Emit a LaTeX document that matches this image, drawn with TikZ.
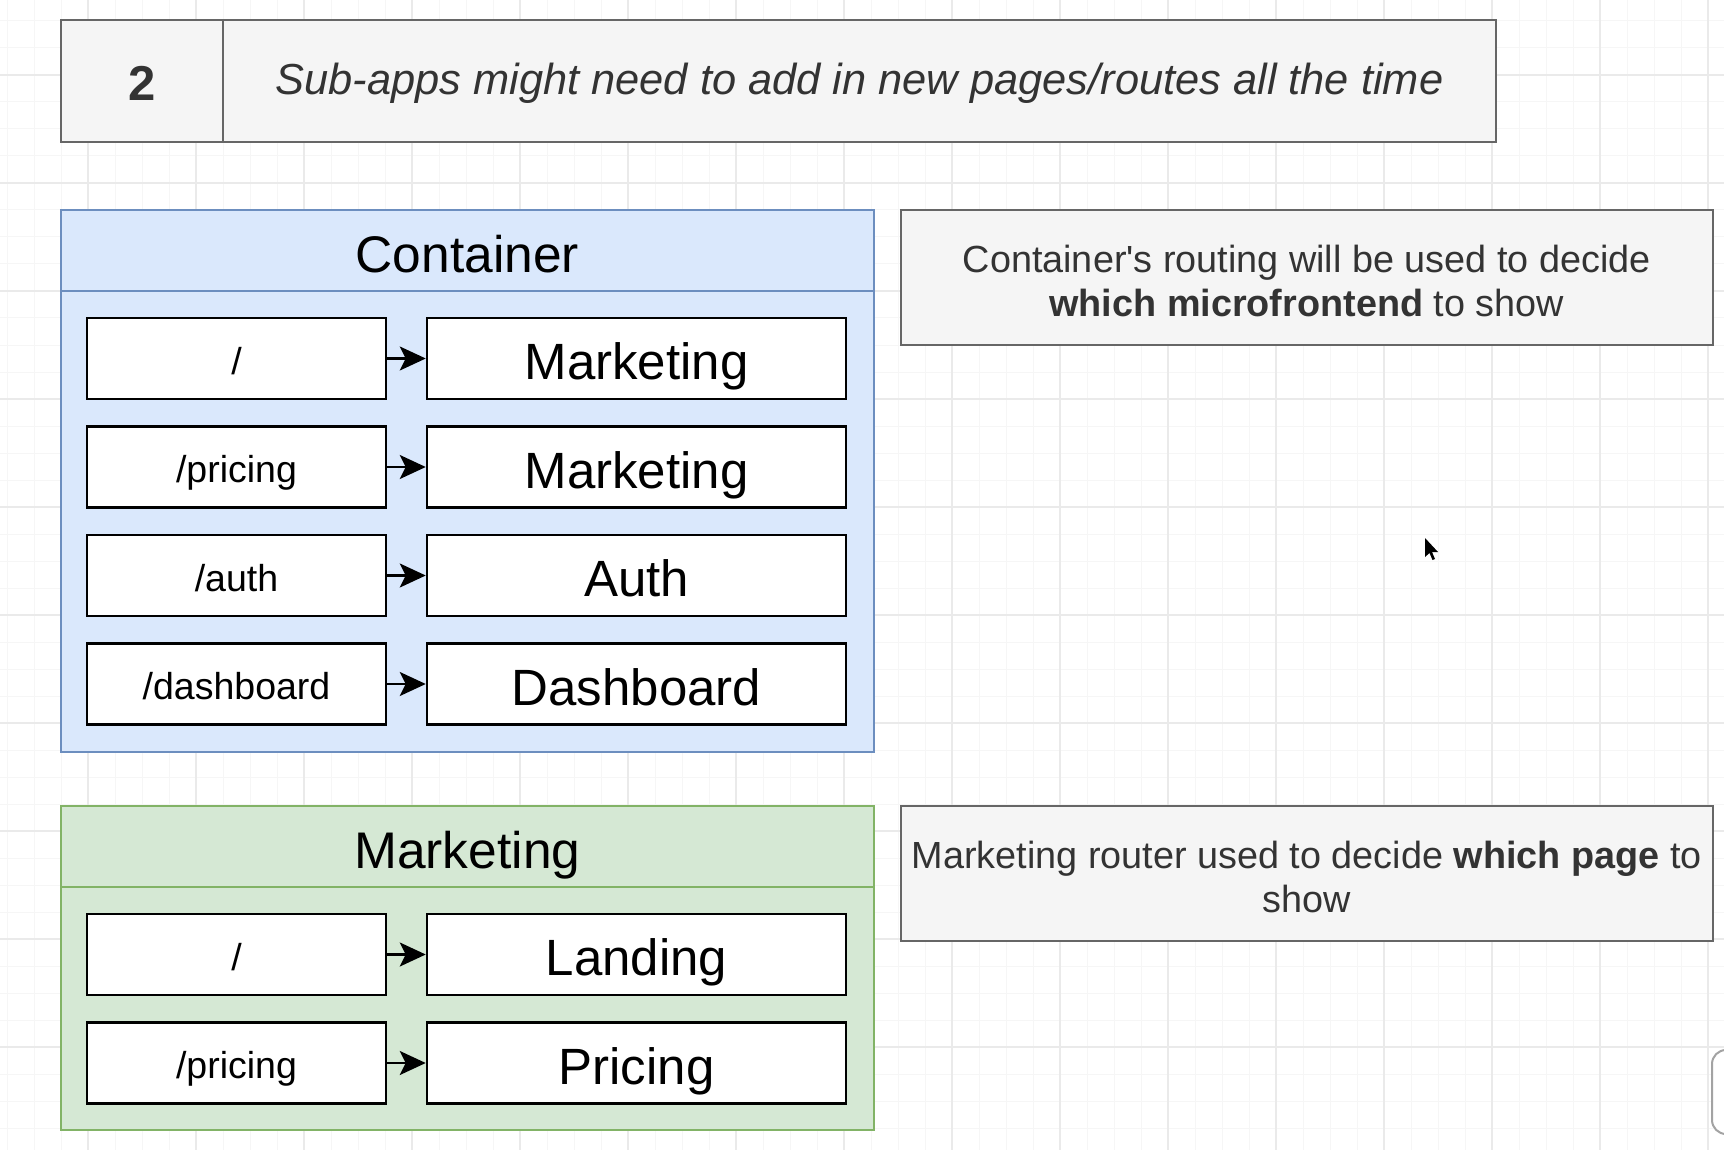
\documentclass[tikz,border=0pt]{standalone}
\usepackage{fontspec}
\setmainfont{Liberation Sans}
\usetikzlibrary{arrows.meta}
\definecolor{gridmajor}{HTML}{EAEAEA}
\definecolor{gridminor}{HTML}{F6F6F6}
\definecolor{notefill}{HTML}{F5F5F5}
\definecolor{notedraw}{HTML}{666666}
\definecolor{notetext}{HTML}{333333}
\definecolor{bluefill}{HTML}{DAE8FC}
\definecolor{bluedraw}{HTML}{6C8EBF}
\definecolor{greenfill}{HTML}{D5E8D4}
\definecolor{greendraw}{HTML}{82B366}
\tikzset{
  notebox/.style={draw=notedraw, fill=notefill, line width=2pt, text=notetext, inner sep=0pt},
  bluegroup/.style={draw=bluedraw, fill=bluefill, line width=2pt, inner sep=0pt},
  greengroup/.style={draw=greendraw, fill=greenfill, line width=2pt, inner sep=0pt},
  pathbox/.style={draw=black, fill=white, line width=2.5pt, minimum width=299pt, minimum height=81pt, inner sep=0pt, text height=37.5pt, text depth=6pt, font=\fontsize{37.5}{45}\selectfont},
  appbox/.style={draw=black, fill=white, line width=2.5pt, minimum width=419pt, minimum height=81pt, inner sep=0pt, text height=51pt, text depth=8.2pt, font=\fontsize{51}{61}\selectfont},
  routearrow/.style={-{Stealth[length=26pt,width=24pt,inset=6pt]}, line width=2.5pt},
  grouptitle/.style={inner sep=0pt, text height=51.5pt, text depth=8.2pt, font=\fontsize{51.5}{62}\selectfont},
  notetextstyle/.style={inner sep=0pt, align=center, text=notetext, font=\fontsize{37.8}{44}\selectfont}
}
\begin{document}
\begin{tikzpicture}[x=1pt,y=-1pt]
\useasboundingbox (0,0) rectangle (1724,1150);
\fill[white] (0,0) rectangle (1724,1150);
% background grid
\foreach \gx in {7,34,...,1717} \draw[gridminor, line width=1pt] (\gx,0) -- (\gx,1150);
\foreach \gy in {21,48,...,1150} \draw[gridminor, line width=1pt] (0,\gy) -- (1724,\gy);
\foreach \gx in {88,196,...,1708} \draw[gridmajor, line width=1.5pt] (\gx,0) -- (\gx,1150);
\foreach \gy in {75,183,...,1150} \draw[gridmajor, line width=1.5pt] (0,\gy) -- (1724,\gy);

% banner
\node[notebox, minimum width=1435.5pt, minimum height=122pt] (banner) at (778.25,81) {};
\coordinate (bdivtop) at (223,20);
\coordinate (bdivbot) at (223,142);
\draw[notedraw, line width=2pt] (bdivtop) -- (bdivbot);
\node[anchor=base, inner sep=0pt, text=notetext, font=\fontsize{49}{58}\selectfont\bfseries] (num) at (141.75,101) {2};
\node[anchor=base, inner sep=0pt, text=notetext, font=\fontsize{43.4}{52}\selectfont\itshape] (bannertext) at (859.5,95) {Sub-apps might need to add in new pages/routes all the time};

% container group
\node[bluegroup, minimum width=813.5pt, minimum height=542pt] (container) at (467.25,481) {};
\coordinate (chl) at (60.5,291);
\coordinate (chr) at (874,291);
\draw[bluedraw, line width=2pt] (chl) -- (chr);
\node[grouptitle] (containertitle) at (467.25,250.5) {Container};

\node[pathbox] (p1) at (236.5,358.5) {/};
\node[appbox] (a1) at (636.5,358.5) {Marketing};
\node[pathbox] (p2) at (236.5,467) {/pricing};
\node[appbox] (a2) at (636.5,467) {Marketing};
\node[pathbox] (p3) at (236.5,575.5) {/auth};
\node[appbox] (a3) at (636.5,575.5) {Auth};
\node[pathbox] (p4) at (236.5,684) {/dashboard};
\node[appbox] (a4) at (636.5,684) {Dashboard};
\foreach \i in {1,2,3,4} \draw[routearrow] (p\i.east) -- (a\i.west);

% container note
\node[notebox, minimum width=812.5pt, minimum height=135pt] (cnote) at (1306.75,277.5) {};
\node[notetextstyle] (cnotetext) at (1306.75,281) {Container\textquotesingle s routing will be used to decide\\\textbf{which microfrontend} to show};

% marketing group
\node[greengroup, minimum width=813.5pt, minimum height=324pt] (marketing) at (467.25,968) {};
\coordinate (mhl) at (60.5,887);
\coordinate (mhr) at (874,887);
\draw[greendraw, line width=2pt] (mhl) -- (mhr);
\node[grouptitle] (marketingtitle) at (467.25,846.5) {Marketing};

\node[pathbox] (q1) at (236.5,954.5) {/};
\node[appbox] (b1) at (636.5,954.5) {Landing};
\node[pathbox] (q2) at (236.5,1063) {/pricing};
\node[appbox] (b2) at (636.5,1063) {Pricing};
\foreach \i in {1,2} \draw[routearrow] (q\i.east) -- (b\i.west);

% marketing note
\node[notebox, minimum width=812.5pt, minimum height=135pt] (mnote) at (1306.75,873.5) {};
\node[notetextstyle] (mnotetext) at (1306.75,877) {Marketing router used to decide \textbf{which page} to\\show};

% mouse cursor
\fill[black] (1425,538) -- (1425,557) -- (1429.5,553) -- (1432.5,560) -- (1435,559) -- (1432,552) -- (1438,552) -- cycle;

% partial UI element at right edge
\begin{scope}
\clip (0,0) rectangle (1724,1150);
\draw[notedraw!60, line width=2pt, fill=white, rounded corners=14pt] (1712,1050) rectangle (1770,1134);
\end{scope}
\end{tikzpicture}
\end{document}
